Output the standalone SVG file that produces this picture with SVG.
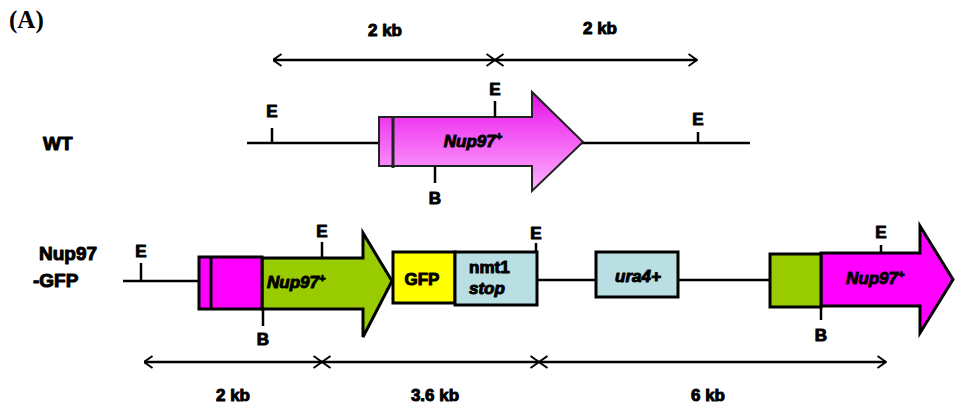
<svg xmlns="http://www.w3.org/2000/svg" width="955" height="408" viewBox="0 0 955 408">
  <defs>
    <linearGradient id="pinkGrad" x1="0" y1="0" x2="0" y2="1">
      <stop offset="0" stop-color="#e010e0"/>
      <stop offset="0.3" stop-color="#f040f0"/>
      <stop offset="1" stop-color="#ffb4ff"/>
    </linearGradient>
    <marker id="chev" viewBox="0 0 10 14" refX="9.5" refY="7" markerWidth="10" markerHeight="14" markerUnits="userSpaceOnUse" orient="auto-start-reverse">
      <path d="M1,1 L9.5,7 L1,13" fill="none" stroke="#000" stroke-width="2"/>
    </marker>
    <style>
      .lbl { font-family: "Liberation Sans", Arial, sans-serif; font-weight: bold; font-size: 17px; fill: #000; stroke: #000; stroke-width: 1; stroke-linejoin: round; }
      .big { font-size: 19px; }
      .ital { font-style: italic; }
      .dna { stroke: #000; stroke-width: 2.5; fill: none; }
      .tick { stroke: #000; stroke-width: 2.5; }
      .box { stroke: #000; stroke-width: 3; }
      .dim { stroke: #000; stroke-width: 2.5; fill: none; marker-start: url(#chev); marker-end: url(#chev); }
    </style>
  </defs>

  <rect width="955" height="408" fill="#fff"/>

  <text x="9" y="28" font-family="'Liberation Serif', 'Times New Roman', serif" font-weight="bold" font-size="25">(A)</text>

  <!-- dimension arrows -->
  <g id="connectors">
    <line class="dim" x1="273" y1="60" x2="495" y2="60"/>
    <line class="dim" x1="495" y1="60" x2="697" y2="60"/>
    <line class="dim" x1="144" y1="362" x2="322" y2="362"/>
    <line class="dim" x1="322" y1="362" x2="539" y2="362"/>
    <line class="dim" x1="539" y1="362" x2="886" y2="362"/>
  </g>

  <g id="dim-labels">
    <text class="lbl" x="385" y="36" text-anchor="middle">2 kb</text>
    <text class="lbl" x="600" y="34" text-anchor="middle">2 kb</text>
    <text class="lbl" x="233" y="401" text-anchor="middle">2 kb</text>
    <text class="lbl" x="435" y="401" text-anchor="middle">3.6 kb</text>
    <text class="lbl" x="708" y="401" text-anchor="middle">6 kb</text>
  </g>

  <!-- wild-type locus -->
  <g id="wt">
    <text class="lbl big" x="43" y="150" font-size="20">WT</text>
    <line class="dna" x1="247" y1="143" x2="750" y2="143"/>
    <polygon points="379,117 532,117 532,92 583,142 532,191 532,166 379,166" fill="url(#pinkGrad)" stroke="#222" stroke-width="2"/>
    <line x1="393" y1="117" x2="393" y2="168" stroke="#222" stroke-width="3"/>
    <text class="lbl ital" x="473" y="147" text-anchor="middle" font-size="18">Nup97<tspan font-size="11" dy="-7">+</tspan></text>
    <line class="tick" x1="272" y1="128" x2="272" y2="143"/>
    <text class="lbl" x="272" y="117" text-anchor="middle">E</text>
    <line class="tick" x1="495" y1="101" x2="495" y2="117"/>
    <text class="lbl" x="495" y="95" text-anchor="middle">E</text>
    <line class="tick" x1="435" y1="166" x2="435" y2="183"/>
    <text class="lbl" x="435" y="204" text-anchor="middle">B</text>
    <line class="tick" x1="698" y1="132" x2="698" y2="143"/>
    <text class="lbl" x="698" y="125" text-anchor="middle">E</text>
  </g>

  <!-- Nup97-GFP tagged locus -->
  <g id="gfp-locus">
    <text class="lbl big" x="39" y="260">Nup97</text>
    <text class="lbl big" x="33" y="287">-GFP</text>
    <line class="dna" x1="123" y1="281" x2="200" y2="281"/>
    <line class="dna" x1="537" y1="280" x2="597" y2="280"/>
    <line class="dna" x1="678" y1="280" x2="771" y2="280"/>
    <line class="tick" x1="141" y1="263" x2="141" y2="281"/>
    <text class="lbl" x="141" y="257" text-anchor="middle">E</text>
  </g>

  <g id="nup97-tagged">
    <polygon class="box" points="262,258 363,258 363,233 392,281 363,337 363,309 262,309" fill="#99cc00" stroke-width="2.5"/>
    <rect class="box" x="199" y="257" width="63" height="52" fill="#ff00ff"/>
    <line x1="211" y1="257" x2="211" y2="309" stroke="#000" stroke-width="3"/>
    <text class="lbl ital" x="267" y="288" font-size="18">Nup97<tspan font-size="11" dy="-6">+</tspan></text>
    <line class="tick" x1="322" y1="242" x2="322" y2="258"/>
    <text class="lbl" x="322" y="237" text-anchor="middle">E</text>
    <line class="tick" x1="263" y1="309" x2="263" y2="326"/>
    <text class="lbl" x="263" y="345" text-anchor="middle">B</text>
  </g>

  <g id="gfp">
    <rect class="box" x="393" y="252" width="62" height="51" fill="#ffff00"/>
    <text class="lbl" x="422" y="285" text-anchor="middle" font-size="17">GFP</text>
  </g>

  <g id="nmt1-stop">
    <rect class="box" x="455" y="252" width="82" height="53" fill="#b9dfe3"/>
    <text class="lbl" x="469" y="273" font-size="17">nmt1</text>
    <text class="lbl ital" x="469" y="294" font-size="17">stop</text>
    <line class="tick" x1="536" y1="243" x2="536" y2="252"/>
    <text class="lbl" x="536" y="239" text-anchor="middle">E</text>
  </g>

  <g id="ura4">
    <rect class="box" x="596" y="252" width="82" height="45" fill="#b9dfe3"/>
    <text class="lbl ital" x="638" y="282" text-anchor="middle" font-size="18">ura4+</text>
  </g>

  <g id="nup97-promoter-copy">
    <polygon class="box" points="821,253 920,253 920,226 953,279.5 920,333 920,306 821,306" fill="#ff00ff" stroke-width="2.5"/>
    <rect class="box" x="770" y="254" width="51" height="53" fill="#99cc00"/>
    <text class="lbl ital" x="846" y="284" font-size="18">Nup97<tspan font-size="11" dy="-6">+</tspan></text>
    <line class="tick" x1="881" y1="245" x2="881" y2="253"/>
    <text class="lbl" x="881" y="238" text-anchor="middle">E</text>
    <line class="tick" x1="821" y1="307" x2="821" y2="320"/>
    <text class="lbl" x="821" y="341" text-anchor="middle">B</text>
  </g>
</svg>
